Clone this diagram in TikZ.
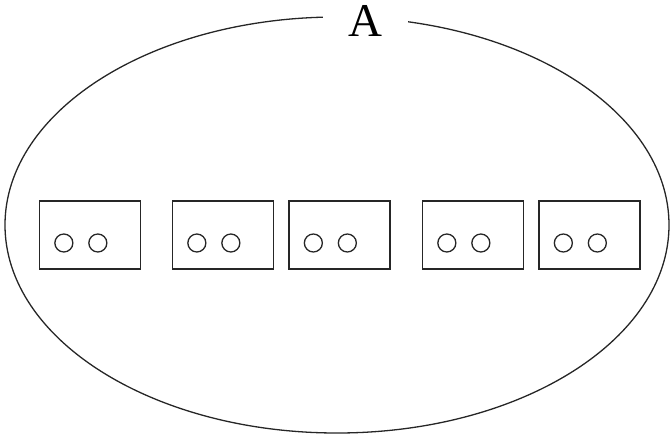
\documentclass[tikz,border=0pt]{standalone}
\usepackage{fontspec}
\setmainfont{Liberation Serif}
\begin{document}
\begin{tikzpicture}[x=1pt,y=-1pt,
  line/.style={draw=black!85,line width=1.3pt},
  cell/.style={line,minimum width=101pt,minimum height=68pt,inner sep=0pt},
  dot/.style={line,circle,minimum size=18pt,inner sep=0pt},
  lbl/.style={fill=white,inner xsep=2pt,inner ysep=0pt,text height=32pt,text depth=0pt,font=\fontsize{47}{50}\selectfont}]
\useasboundingbox (0,0) rectangle (670,437);
\draw[line] (337,225) ellipse [x radius=332, y radius=208];
\node[lbl,minimum width=85pt,anchor=base] (A) at (365.5,36) {A};
\foreach \i/\x in {1/90,2/223,3/339.5,4/473,5/589.5}{
  \node[cell] (b\i) at (\x,235) {};
  \node[dot] (c\i a) at ([xshift=25pt]b\i.west |- 0,243) {};
  \node[dot] (c\i b) at ([xshift=59pt]b\i.west |- 0,243) {};
}
\end{tikzpicture}
\end{document}
